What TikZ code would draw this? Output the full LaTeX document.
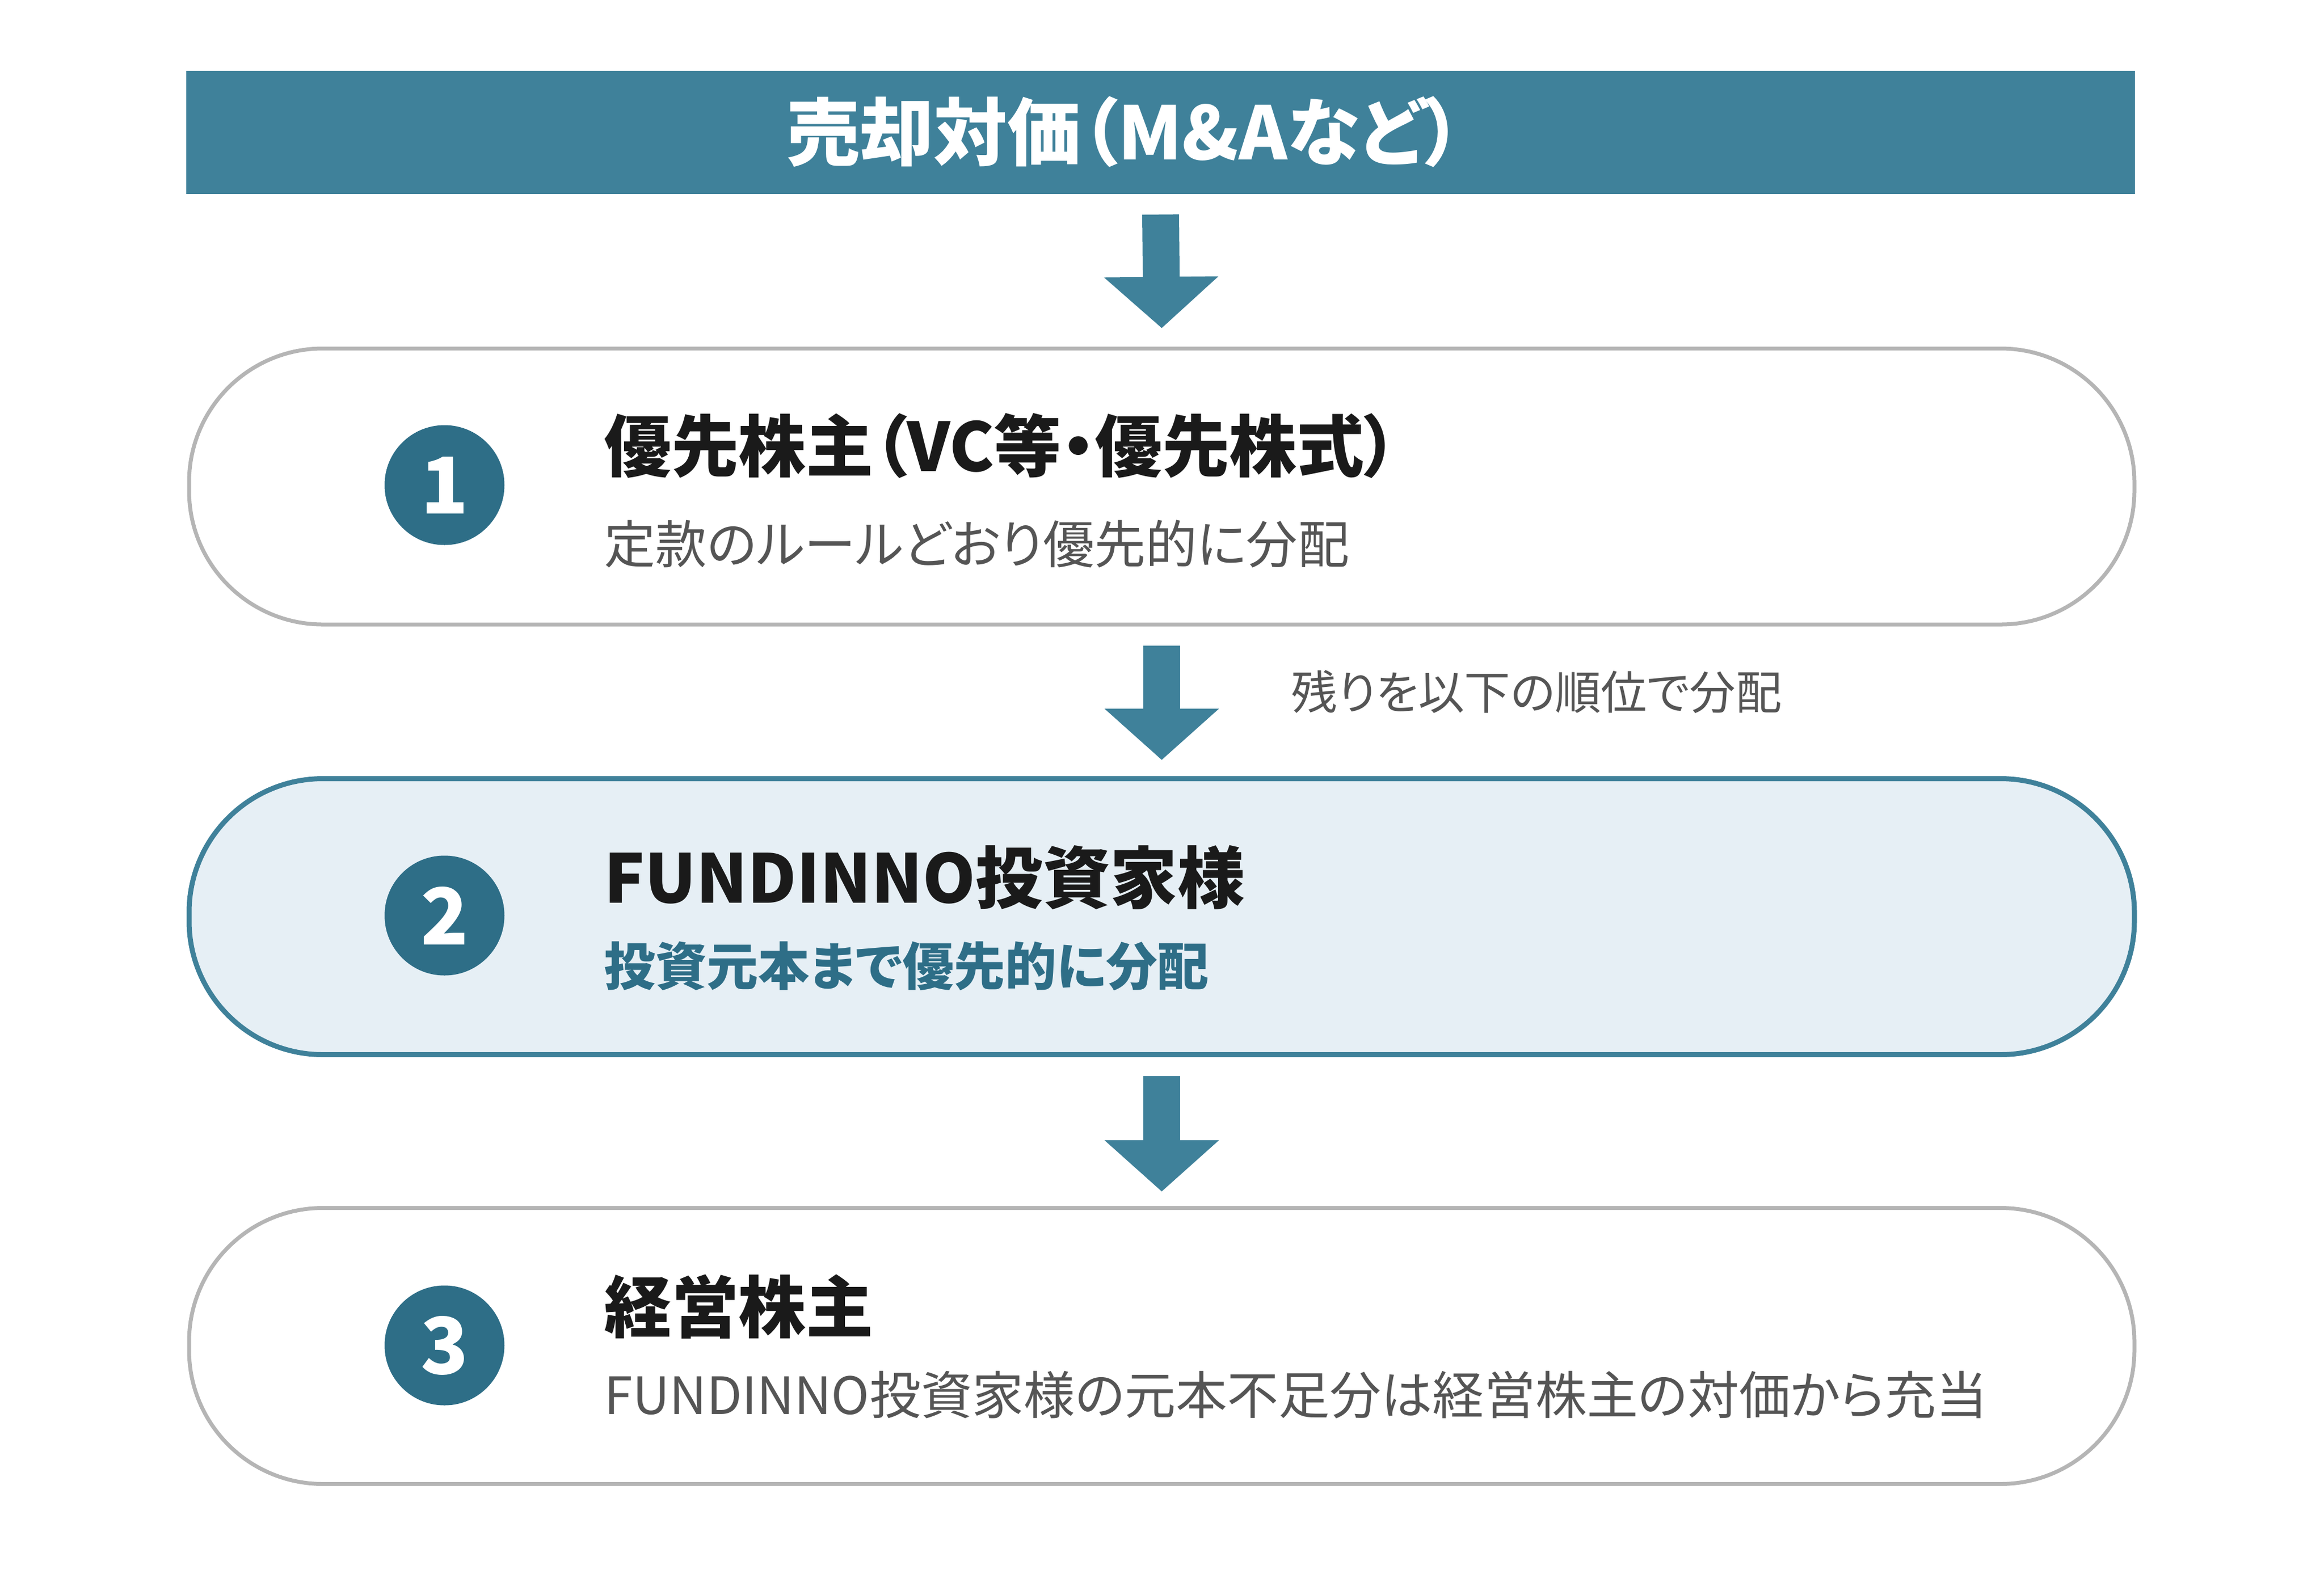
\documentclass[tikz,border=0pt]{standalone}
\usepackage{fontspec}
\setmainfont{Noto Sans CJK JP}[RawFeature=+palt]
\usepackage{tikz}
\usetikzlibrary{positioning,arrows.meta}
\definecolor{barteal}{RGB}{63,129,154}
\definecolor{numteal}{RGB}{46,110,135}
\definecolor{paleblue}{RGB}{230,239,245}
\definecolor{rimgray}{RGB}{181,181,181}
\definecolor{notegray}{RGB}{85,85,85}
\definecolor{inkblack}{RGB}{26,26,26}
\tikzset{
	tier/.style={draw=rimgray, line width=0.07cm, fill=white, rounded corners=2.4cm, minimum width=34.88cm, minimum height=4.95cm, inner sep=0pt},
	numdot/.style={circle, fill=numteal, minimum size=2.15cm, inner sep=0pt, text=white, font=\bfseries\fontsize{40}{40}\selectfont},
	headtxt/.style={anchor=base west, inner sep=0pt, text=inkblack, font=\bfseries\fontsize{34.3}{34.3}\selectfont},
	subtxt/.style={anchor=base west, inner sep=0pt, text=notegray, font=\fontsize{26.2}{26.2}\selectfont},
	downarrow/.style={draw=barteal, line width=0.66cm, -{Triangle[width=2cm,length=0.92cm]}},
}
\begin{document}
\begin{tikzpicture}
			\useasboundingbox (0,0) rectangle (41.67,-28.22);
			\node[fill=barteal, minimum width=34.94cm, minimum height=2.21cm, inner sep=0pt] (bar) at (20.81,-2.375) {};
			\node[anchor=base, inner sep=0pt, text=white, font=\bfseries\fontsize{37.5}{37.5}\selectfont] (bartxt) at (20.16,-2.86) {売却対価（M\&Aなど）};
			\node[tier] (tier1) at (20.83,-8.725) {};
			\node[tier, draw=barteal, line width=0.09cm, fill=paleblue] (tier2) at (20.83,-16.44) {};
			\node[tier] (tier3) at (20.83,-24.14) {};
			\node[numdot] (num1) at (7.97,-8.70) {1};
			\node[numdot] (num2) at (7.97,-16.42) {2};
			\node[numdot] (num3) at (7.97,-24.13) {3};
			\node[headtxt] (head1) at (10.83,-8.45) {優先株主（VC等・優先株式）};
			\node[subtxt] (sub1) at (10.83,-10.10) {定款のルールどおり優先的に分配};
			\node[headtxt] (head2) at (10.83,-16.19) {FUNDINNO投資家様};
			\node[subtxt, text=numteal, font=\bfseries\fontsize{26.2}{26.2}\selectfont] (sub2) at (10.83,-17.67) {投資元本まで優先的に分配};
			\node[headtxt] (head3) at (10.83,-23.89) {経営株主};
			\node[subtxt] (sub3) at (10.83,-25.36) {FUNDINNO投資家様の元本不足分は経営株主の対価から充当};
			\node[anchor=base west, inner sep=0pt, text=notegray, font=\fontsize{23.5}{23.5}\selectfont] (note) at (23.15,-12.72) {残りを以下の順位で分配};
			\draw[downarrow] ([yshift=-0.36cm]bar.south) -- ([yshift=0.33cm]tier1.north);
			\draw[downarrow] ([yshift=-0.34cm]tier1.south) -- ([yshift=0.29cm]tier2.north);
			\draw[downarrow] ([yshift=-0.34cm]tier2.south) -- ([yshift=0.26cm]tier3.north);
		\end{tikzpicture}
\end{document}
